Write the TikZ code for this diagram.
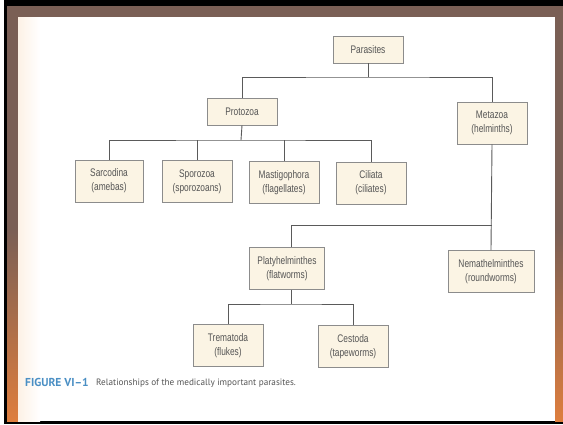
\documentclass[tikz,border=0pt]{standalone}
\usepackage{fontspec}
\newfontfamily\boxfont{Liberation Sans}[FakeStretch=0.76]
\newfontfamily\capfont{PT Sans}
\definecolor{frameb}{HTML}{7A5F55}
\definecolor{frameo}{HTML}{DE7E3E}
\definecolor{boxfill}{HTML}{FBF4E4}
\definecolor{boxline}{HTML}{8C8C8C}
\definecolor{txt}{HTML}{555555}
\definecolor{linec}{HTML}{5A5A5A}
\definecolor{figblue}{HTML}{4A8FC4}
\begin{document}
\begin{tikzpicture}[x=1pt,y=-1pt,
  taxon/.style={draw=boxline, line width=0.8pt, fill=boxfill, text=txt,
    font=\boxfont\fontsize{11}{14}\selectfont, align=center, inner sep=0pt,
    minimum width=70pt},
  one/.style={taxon, minimum height=27pt},
  two/.style={taxon, minimum height=42pt},
  link/.style={draw=linec, line width=0.9pt}]
\useasboundingbox (0,0) rectangle (563,424);
% frame
\fill[white] (0,0) rectangle (563,424);
\fill[black] (4,0) rectangle (563,424);
\fill[frameb] (7,6) rectangle (563,421);
\shade[top color=frameb, bottom color=frameo] (7,230) rectangle (18,421);
\shade[top color=frameb, bottom color=frameo] (555,230) rectangle (563,421);
% page
\fill[white] (18,17) rectangle (555,421);
\shade[left color=black!8!orange!10!white, right color=white] (18,17) rectangle (40,421);

% nodes
\node[one] (par) at (368,49.5) {Parasites};
\node[one] (pro) at (242,111.5) {Protozoa};
\node[two] (met) at (492,123) {Metazoa\\(helminths)};
\node[two, minimum width=68pt] (sar) at (109,181) {Sarcodina\\(amebas)};
\node[two] (spo) at (197,181.5) {Sporozoa\\(sporozoans)};
\node[two] (mas) at (284,182.5) {Mastigophora\\(flagellates)};
\node[two] (cil) at (371,183) {Ciliata\\(ciliates)};
\node[two, minimum width=75pt] (pla) at (287,268.5) {Platyhelminthes\\(flatworms)};
\node[two, minimum width=86pt] (nem) at (491,271.5) {Nemathelminthes\\(roundworms)};
\node[two] (tre) at (228,345.5) {Trematoda\\(flukes)};
\node[two] (ces) at (353,346.5) {Cestoda\\(tapeworms)};

% junctions
\coordinate (j1) at (368,77);
\coordinate (j2) at (241,140);
\coordinate (j3) at (492,225);
\coordinate (j4) at (291,304);

% connectors
\draw[link] (par.south) -- (j1);
\draw[link] (pro.north) |- (j1) -| (met.north);
\draw[link] (pro.south) -- (j2);
\draw[link] (sar.north) |- (j2) -| (cil.north);
\draw[link] (spo.north) -- (spo.north |- j2);
\draw[link] (mas.north) -- (mas.north |- j2);
\draw[link] (met.south) -- (nem.north);
\draw[link] ([xshift=4pt]pla.north) |- (j3);
\draw[link] ([xshift=4pt]pla.south) -- (j4);
\draw[link] (tre.north) |- (j4) -| (ces.north);

% caption
\node[anchor=west, inner sep=0pt, text=figblue, font=\capfont\bfseries\fontsize{11.5}{14}\selectfont] (fig) at (25,382) {FIGURE VI–1};
\node[anchor=west, inner sep=0pt, text=txt, font=\capfont\fontsize{9.2}{11}\selectfont] (cap) at (96,383) {Relationships of the medically important parasites.};
\end{tikzpicture}
\end{document}
